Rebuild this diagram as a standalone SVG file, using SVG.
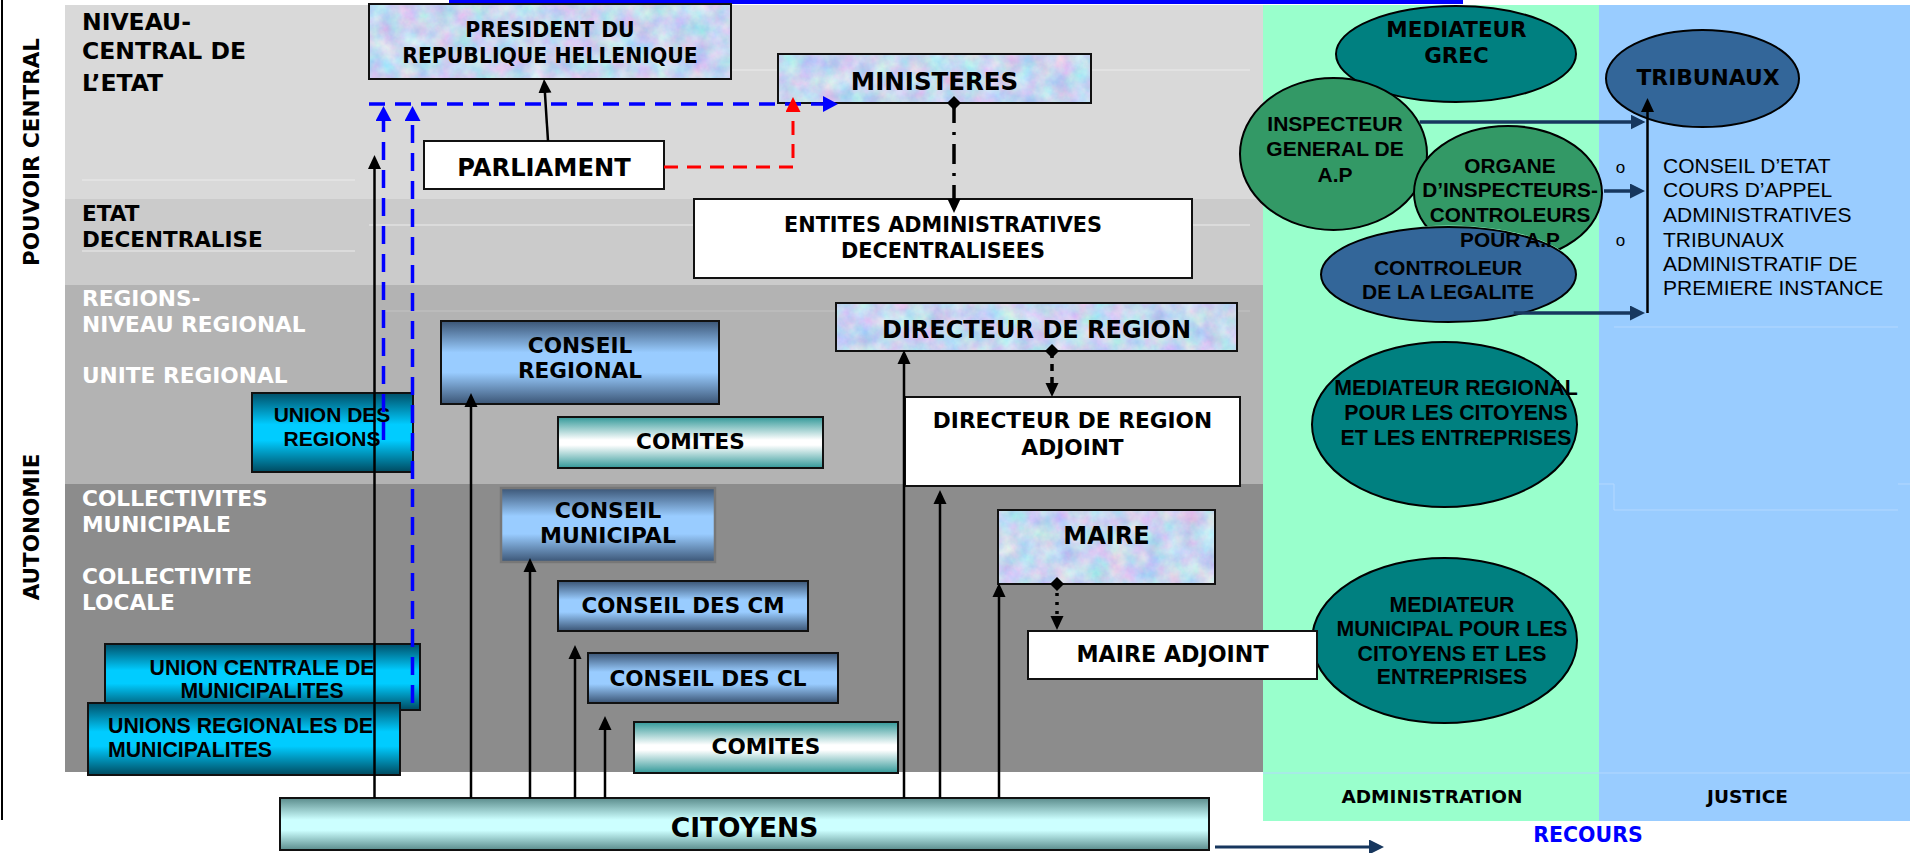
<svg xmlns="http://www.w3.org/2000/svg" width="1910" height="853" viewBox="0 0 1910 853">
<defs>
<style>
.t{font-family:"DejaVu Sans",Verdana,sans-serif;font-weight:bold;fill:#000}
.a{font-family:"Liberation Sans",Arial,sans-serif;font-weight:bold;fill:#000}
.r{font-family:"Liberation Sans",Arial,sans-serif;fill:#000}
.c{text-anchor:middle}
.w{fill:#fff}
.box{stroke:#111;stroke-width:2}
.frame{fill:none;stroke:#111;stroke-width:2}
.ell{stroke:#000;stroke-width:2}
.ln{fill:none;stroke:#000;stroke-width:2.5}
.grid{stroke:#ececec;stroke-width:1.2;fill:none}
</style>
<linearGradient id="gBlue" x1="0" y1="0" x2="0" y2="1">
<stop offset="0" stop-color="#3b5575"/><stop offset="0.38" stop-color="#99ccff"/><stop offset="0.62" stop-color="#99ccff"/><stop offset="1" stop-color="#3b5575"/>
</linearGradient>
<linearGradient id="gCyan" x1="0" y1="0" x2="0" y2="1">
<stop offset="0" stop-color="#004f68"/><stop offset="0.4" stop-color="#00ccff"/><stop offset="0.6" stop-color="#00ccff"/><stop offset="1" stop-color="#004a60"/>
</linearGradient>
<linearGradient id="gTeal" x1="0" y1="0" x2="0" y2="1">
<stop offset="0" stop-color="#339999"/><stop offset="0.45" stop-color="#ffffff"/><stop offset="0.55" stop-color="#ffffff"/><stop offset="1" stop-color="#339999"/>
</linearGradient>
<linearGradient id="gCit" x1="0" y1="0" x2="0" y2="1">
<stop offset="0" stop-color="#5b8c8c"/><stop offset="0.42" stop-color="#ccffff"/><stop offset="0.62" stop-color="#ccffff"/><stop offset="1" stop-color="#5b8c8c"/>
</linearGradient>
<filter id="tissue" color-interpolation-filters="sRGB">
<feTurbulence type="fractalNoise" baseFrequency="0.055" numOctaves="4" seed="7" result="n"/>
<feColorMatrix in="n" type="matrix" values="0.4 0 0 0 0.58  0 0.3 0 0 0.69  0 0 0.12 0 0.88  0 0 0 0 1" result="c"/>
<feComposite in="c" in2="SourceGraphic" operator="in"/>
</filter>
<clipPath id="clipOrg" clipPathUnits="userSpaceOnUse">
<path clip-rule="evenodd" d="M1400,110 H1620 V290 H1400 Z M1319.5,274.5 a129,49 0 1,0 258,0 a129,49 0 1,0 -258,0 Z"/>
</clipPath>
<marker id="ab" viewBox="0 0 14 14" refX="10" refY="7" markerWidth="14" markerHeight="14" markerUnits="userSpaceOnUse" orient="auto"><path d="M0,0.5 L14,7 L0,13.5 Z" fill="#000"/></marker>
<marker id="abl" viewBox="0 0 15 16" refX="11" refY="8" markerWidth="15" markerHeight="16" markerUnits="userSpaceOnUse" orient="auto"><path d="M0,0 L15,8 L0,16 Z" fill="#0000ff"/></marker>
<marker id="ar" viewBox="0 0 15 15" refX="11" refY="7.5" markerWidth="15" markerHeight="15" markerUnits="userSpaceOnUse" orient="auto"><path d="M0,0 L15,7.5 L0,15 Z" fill="#ff0000"/></marker>
<marker id="an" viewBox="0 0 15 15" refX="11" refY="7.5" markerWidth="15" markerHeight="15" markerUnits="userSpaceOnUse" orient="auto"><path d="M0,0 L15,7.5 L0,15 Z" fill="#17375e"/></marker>
<marker id="dia" viewBox="0 0 14 14" refX="7" refY="7" markerWidth="14" markerHeight="14" markerUnits="userSpaceOnUse" orient="auto"><path d="M7,0 L14,7 L7,14 L0,7 Z" fill="#000"/></marker>
</defs>
<rect width="1910" height="853" fill="#fff"/>
<g id="background">
<rect x="65" y="5" width="1198" height="194" fill="#d9d9d9"/>
<rect x="65" y="199" width="1198" height="86" fill="#cbcbcb"/>
<rect x="65" y="285" width="1198" height="199" fill="#b3b3b3"/>
<rect x="65" y="484" width="1198" height="288" fill="#8c8c8c"/>
<rect x="1263" y="5" width="336" height="816" fill="#99ffcc"/>
<rect x="1599" y="5" width="311" height="816" fill="#99ccff"/>
<path class="grid" d="M731,70 H1250 M82,180 H355 M369,225 H1250 M82,251 H355"/>
<path d="M383,311 H1250" stroke="#c4c4c4" stroke-width="1.2"/>
<path d="M1599,484 H1614 V510 H1898 M1898,484 H1910 M1614,327 H1898 M1263,773 H1910" stroke="#b4d8ff" stroke-width="1" fill="none"/>
<rect x="449" y="0" width="1014" height="4" fill="#0000ff"/>
<path d="M2,0 V820" stroke="#000" stroke-width="2"/>
</g>
<g id="level-labels">
<text class="t" font-size="23.5" x="82" y="30">NIVEAU-</text>
<text class="t" font-size="23.5" x="82" y="59">CENTRAL DE</text>
<text class="t" font-size="23.5" x="82" y="91">L’ETAT</text>
<text class="t" font-size="21.5" x="82" y="221">ETAT</text>
<text class="t" font-size="21.5" x="82" y="247">DECENTRALISE</text>
<text class="t w" font-size="21.7" x="82" y="306">REGIONS-</text>
<text class="t w" font-size="21.7" x="82" y="332">NIVEAU REGIONAL</text>
<text class="t w" font-size="21.7" x="82" y="383">UNITE REGIONAL</text>
<text class="t w" font-size="21.7" x="82" y="506">COLLECTIVITES</text>
<text class="t w" font-size="21.7" x="82" y="532">MUNICIPALE</text>
<text class="t w" font-size="21.7" x="82" y="584">COLLECTIVITE</text>
<text class="t w" font-size="21.7" x="82" y="610">LOCALE</text>
<text class="t c" font-size="21.5" transform="translate(38.5,152) rotate(-90)">POUVOIR CENTRAL</text>
<text class="t c" font-size="21.5" transform="translate(38.5,527) rotate(-90)">AUTONOMIE</text>
</g>
<g id="mediateur-grec">
<ellipse class="ell" cx="1456" cy="54" rx="120" ry="48" fill="#008080"/>
<text class="t c" font-size="21.5" x="1456.5" y="37">MEDIATEUR</text>
<text class="t c" font-size="21.5" x="1456.5" y="63">GREC</text>
</g>
<g id="tribunaux">
<ellipse class="ell" cx="1702.5" cy="78.5" rx="96.5" ry="48.5" fill="#336699"/>
<text class="t c" font-size="21.8" x="1708" y="85">TRIBUNAUX</text>
</g>
<g id="inspecteur">
<ellipse class="ell" cx="1333.5" cy="154" rx="93.5" ry="76" fill="#339966"/>
<text class="a c" font-size="21" x="1335" y="131">INSPECTEUR</text>
<text class="a c" font-size="21" x="1335" y="156">GENERAL DE</text>
<text class="a c" font-size="21" x="1335" y="182">A.P</text>
</g>
<g id="controleur">
<ellipse class="ell" cx="1448.5" cy="274.5" rx="127.5" ry="47.5" fill="#336699"/>
<text class="a c" font-size="21" x="1448" y="275">CONTROLEUR</text>
<text class="a c" font-size="21" x="1448" y="299">DE LA LEGALITE</text>
</g>
<g id="organe">
<ellipse class="ell" cx="1508" cy="193" rx="94" ry="67" fill="#339966" clip-path="url(#clipOrg)"/>
<text class="a c" font-size="20.8" x="1510" y="173">ORGANE</text>
<text class="a c" font-size="20.8" x="1510" y="197">D’INSPECTEURS-</text>
<text class="a c" font-size="20.8" x="1510" y="222">CONTROLEURS</text>
<text class="a c" font-size="20.8" x="1510" y="247">POUR A.P</text>
</g>
<g id="mediateur-regional">
<ellipse class="ell" cx="1444.5" cy="424.5" rx="132.5" ry="82.5" fill="#008080"/>
<text class="a c" font-size="21.3" x="1456" y="395">MEDIATEUR REGIONAL</text>
<text class="a c" font-size="21.3" x="1456" y="420">POUR LES CITOYENS</text>
<text class="a c" font-size="21.3" x="1456" y="445">ET LES ENTREPRISES</text>
</g>
<g id="mediateur-municipal">
<ellipse class="ell" cx="1444.5" cy="640.5" rx="132.5" ry="82.5" fill="#008080"/>
<text class="a c" font-size="21.3" x="1452" y="612">MEDIATEUR</text>
<text class="a c" font-size="21.3" x="1452" y="636">MUNICIPAL POUR LES</text>
<text class="a c" font-size="21.3" x="1452" y="661">CITOYENS ET LES</text>
<text class="a c" font-size="21.3" x="1452" y="684">ENTREPRISES</text>
</g>
<g id="juridictions">
<text class="r c" font-size="17" x="1620.5" y="173">o</text>
<text class="r c" font-size="17" x="1620.5" y="246">o</text>
<text class="r" font-size="21" x="1663" y="173">CONSEIL D’ETAT</text>
<text class="r" font-size="21" x="1663" y="197">COURS D’APPEL</text>
<text class="r" font-size="21" x="1663" y="222">ADMINISTRATIVES</text>
<text class="r" font-size="21" x="1663" y="247">TRIBUNAUX</text>
<text class="r" font-size="21" x="1663" y="271">ADMINISTRATIF DE</text>
<text class="r" font-size="21" x="1663" y="295">PREMIERE INSTANCE</text>
</g>
<g id="column-labels">
<text class="t c" font-size="18.5" x="1432" y="803">ADMINISTRATION</text>
<text class="t c" font-size="18.5" x="1747.5" y="803">JUSTICE</text>
<text class="t c" font-size="20.5" x="1588" y="842" style="fill:#0000ff">RECOURS</text>
</g>
<g id="president">
<rect x="369" y="4" width="362" height="75" filter="url(#tissue)"/>
<rect class="frame" x="369" y="4" width="362" height="75"/>
<text class="t c" font-size="20.4" x="550" y="37">PRESIDENT DU</text>
<text class="t c" font-size="20.4" x="550" y="63">REPUBLIQUE HELLENIQUE</text>
</g>
<g id="ministeres">
<rect x="778" y="54" width="313" height="49" filter="url(#tissue)"/>
<rect class="frame" x="778" y="54" width="313" height="49"/>
<text class="t c" font-size="24.5" x="934.5" y="90">MINISTERES</text>
</g>
<g id="parliament">
<rect class="box" x="424" y="141" width="240" height="48" fill="#fff"/>
<text class="t c" font-size="24.2" x="544" y="176">PARLIAMENT</text>
</g>
<g id="entites">
<rect class="box" x="694" y="199" width="498" height="79" fill="#fff"/>
<text class="t c" font-size="20.8" x="943" y="232">ENTITES ADMINISTRATIVES</text>
<text class="t c" font-size="20.8" x="943" y="258">DECENTRALISEES</text>
</g>
<g id="directeur-region">
<rect x="836" y="303" width="401" height="48" filter="url(#tissue)"/>
<rect class="frame" x="836" y="303" width="401" height="48"/>
<text class="t c" font-size="24" x="1036.5" y="338">DIRECTEUR DE REGION</text>
</g>
<g id="directeur-adjoint">
<rect class="box" x="905" y="397" width="335" height="89" fill="#fff"/>
<text class="t c" font-size="21.7" x="1072.5" y="428">DIRECTEUR DE REGION</text>
<text class="t c" font-size="21.7" x="1072.5" y="455">ADJOINT</text>
</g>
<g id="conseil-regional">
<rect class="box" x="441" y="321" width="278" height="83" fill="url(#gBlue)"/>
<text class="t c" font-size="21.6" x="580" y="353">CONSEIL</text>
<text class="t c" font-size="21.6" x="580" y="378">REGIONAL</text>
</g>
<g id="comites-regionaux">
<rect class="box" x="558" y="417" width="265" height="51" fill="url(#gTeal)"/>
<text class="t c" font-size="21.6" x="690.5" y="449">COMITES</text>
</g>
<g id="union-regions">
<rect class="box" x="252" y="393" width="161" height="79" fill="url(#gCyan)"/>
<text class="a c" font-size="21" x="332" y="422">UNION DES</text>
<text class="a c" font-size="21" x="332" y="446">REGIONS</text>
</g>
<g id="conseil-municipal">
<rect x="501" y="488" width="214" height="74" fill="url(#gBlue)" stroke="#777" stroke-width="2.5"/>
<text class="t c" font-size="22" x="608" y="518">CONSEIL</text>
<text class="t c" font-size="22" x="608" y="543">MUNICIPAL</text>
</g>
<g id="conseil-cm">
<rect class="box" x="558" y="581" width="250" height="50" fill="url(#gBlue)"/>
<text class="t c" font-size="21.4" x="683" y="613">CONSEIL DES CM</text>
</g>
<g id="conseil-cl">
<rect class="box" x="588" y="653" width="250" height="50" fill="url(#gBlue)"/>
<text class="t c" font-size="21.6" x="708" y="686">CONSEIL DES CL</text>
</g>
<g id="comites-locaux">
<rect class="box" x="634" y="722" width="264" height="51" fill="url(#gTeal)"/>
<text class="t c" font-size="21.6" x="766" y="754">COMITES</text>
</g>
<g id="maire">
<rect x="998" y="510" width="217" height="74" filter="url(#tissue)"/>
<rect class="frame" x="998" y="510" width="217" height="74"/>
<text class="t c" font-size="24" x="1106.5" y="544">MAIRE</text>
</g>
<g id="maire-adjoint">
<rect class="box" x="1028" y="631" width="289" height="48" fill="#fff"/>
<text class="t c" font-size="22.2" x="1172.5" y="662">MAIRE ADJOINT</text>
</g>
<g id="union-centrale">
<rect class="box" x="105" y="644" width="315" height="66" fill="url(#gCyan)"/>
<text class="a c" font-size="21.2" x="262" y="675">UNION CENTRALE DE</text>
<text class="a c" font-size="21.2" x="262" y="698">MUNICIPALITES</text>
</g>
<g id="unions-regionales">
<rect class="box" x="88" y="703" width="312" height="72" fill="url(#gCyan)"/>
<text class="a" font-size="21.3" x="108" y="733">UNIONS REGIONALES DE</text>
<text class="a" font-size="21.3" x="108" y="757">MUNICIPALITES</text>
</g>
<g id="citoyens">
<rect class="box" x="280" y="798" width="929" height="52" fill="url(#gCit)"/>
<text class="t c" font-size="26.5" x="744.5" y="837">CITOYENS</text>
</g>
<g id="connectors">
<path class="ln" d="M374.5,798 V159" marker-end="url(#ab)"/>
<path class="ln" d="M471,798 V397" marker-end="url(#ab)"/>
<path class="ln" d="M530,798 V562" marker-end="url(#ab)"/>
<path class="ln" d="M575,798 V649" marker-end="url(#ab)"/>
<path class="ln" d="M605,798 V720" marker-end="url(#ab)"/>
<path class="ln" d="M904,798 V354" marker-end="url(#ab)"/>
<path class="ln" d="M940,798 V494" marker-end="url(#ab)"/>
<path class="ln" d="M999,798 V587" marker-end="url(#ab)"/>
<path class="ln" d="M548,141 L544.3,83" marker-end="url(#ab)"/>
<path d="M369,104 H834" fill="none" stroke="#0000ff" stroke-width="3.5" stroke-dasharray="16 10" marker-end="url(#abl)"/>
<path d="M383.5,440 V110" fill="none" stroke="#0000ff" stroke-width="3.5" stroke-dasharray="18 10" marker-end="url(#abl)"/>
<path d="M412.5,703 V110" fill="none" stroke="#0000ff" stroke-width="3.5" stroke-dasharray="18 10" marker-end="url(#abl)"/>
<path d="M664,167 H793 V101" fill="none" stroke="#ff0000" stroke-width="3" stroke-dasharray="14 9" marker-end="url(#ar)"/>
<path d="M954,103 V209" fill="none" stroke="#000" stroke-width="3.5" stroke-dasharray="20 9 3 9" marker-start="url(#dia)" marker-end="url(#ab)"/>
<path d="M1052,351 V393" fill="none" stroke="#000" stroke-width="3.5" stroke-dasharray="7 6" marker-start="url(#dia)" marker-end="url(#ab)"/>
<path d="M1057,584 V626" fill="none" stroke="#000" stroke-width="3.5" stroke-dasharray="3 6" marker-start="url(#dia)" marker-end="url(#ab)"/>
<path d="M1419.6,122 H1641.5" fill="none" stroke="#17375e" stroke-width="3.5" marker-end="url(#an)"/>
<path d="M1604,191 H1641" fill="none" stroke="#17375e" stroke-width="3.5" marker-end="url(#an)"/>
<path d="M1513.7,313 H1641" fill="none" stroke="#17375e" stroke-width="3.5" marker-end="url(#an)"/>
<path class="ln" d="M1647.5,313 V102" marker-end="url(#ab)"/>
<path d="M1215,847 H1380" fill="none" stroke="#17375e" stroke-width="3" marker-end="url(#an)"/>
</g>
</svg>
